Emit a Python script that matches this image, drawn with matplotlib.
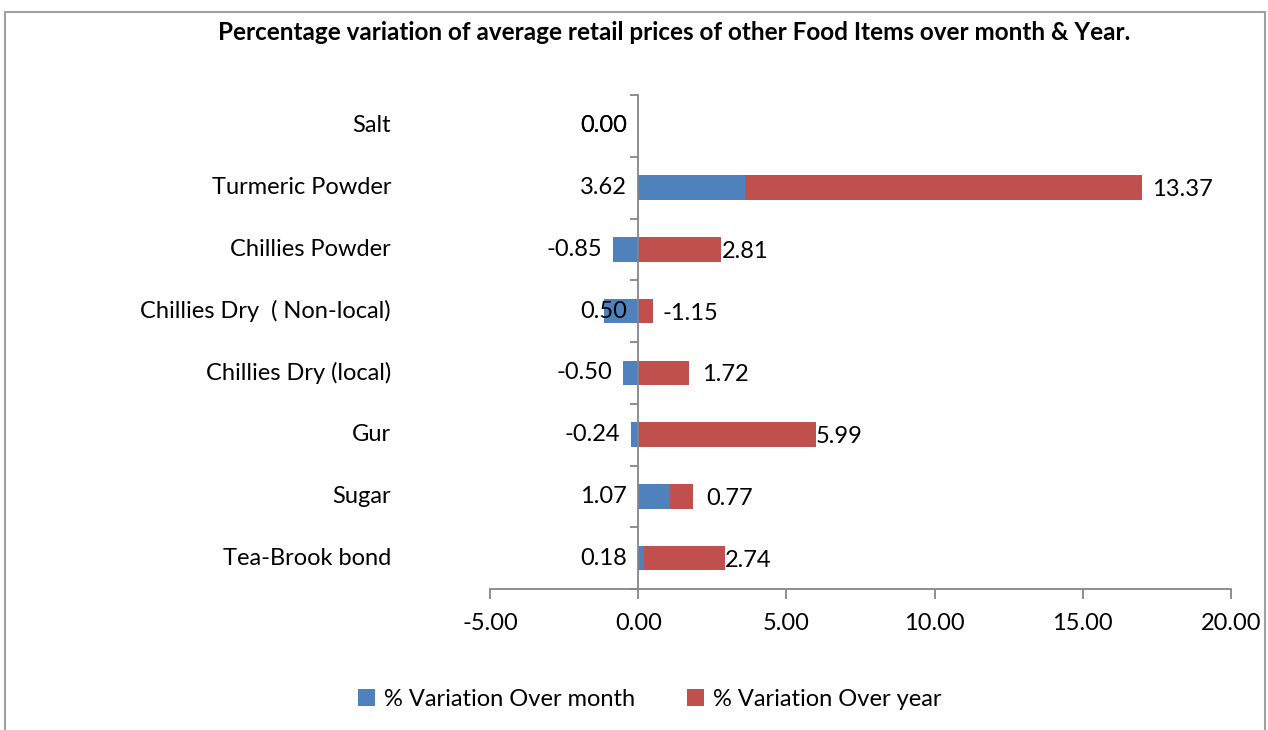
import numpy as np
import matplotlib.pyplot as plt
from matplotlib.patches import Rectangle
from matplotlib.transforms import offset_copy, blended_transform_factory

plt.rcParams['font.family'] = ['Lato', 'DejaVu Sans']

# bottom -> top
items = ["Tea-Brook bond", "Sugar", "Gur", "Chillies Dry (local)",
         "Chillies Dry  ( Non-local)", "Chillies Powder", "Turmeric Powder", "Salt"]
over_month = [0.18, 1.07, -0.24, -0.50, -1.15, -0.85, 3.62, 0.00]
over_year = [2.74, 0.77, 5.99, 1.72, 0.50, 2.81, 13.37, 0.00]
# label texts as printed on the original chart
month_labels = ["0.18", "1.07", "-0.24", "-0.50", "0.50", "-0.85", "3.62", "0.00"]
year_labels = ["2.74", "0.77", "5.99", "1.72", "-1.15", "2.81", "13.37", "0.00"]
x_ticks = [-5, 0, 5, 10, 15, 20]

BLUE = "#4F81BD"
RED = "#C0504D"
AXIS = "#868686"
FS = 17

fig = plt.figure(figsize=(12.68, 7.30), dpi=100)
ax = fig.add_axes([490 / 1268, 1 - 589 / 730, 741 / 1268, 494 / 730])

y = np.arange(len(items))
month = np.array(over_month)
year = np.array(over_year)
# excel-style stacking: negatives go left from zero, positives right
year_left = np.where(month > 0, month, 0)

ax.barh(y, month, height=0.4, color=BLUE, label="% Variation Over month", zorder=2)
ax.barh(y, year, left=year_left, height=0.4, color=RED,
        label="% Variation Over year", zorder=2)

ax.set_xlim(-5, 20)
ax.set_ylim(-0.5, len(items) - 0.5)
ax.set_xticks(x_ticks)
ax.set_xticklabels([f"{v:.2f}" for v in x_ticks], fontsize=FS)
ax.set_yticks(np.arange(len(items) + 1) - 0.5)
ax.set_yticklabels([])
ax.tick_params(axis="x", direction="out", length=7, width=1.3, color=AXIS, pad=10)
ax.tick_params(axis="y", direction="out", length=6, width=1.3, color=AXIS)

for s in ["top", "right"]:
    ax.spines[s].set_visible(False)
ax.spines["left"].set_position(("data", 0))
ax.spines["left"].set_color(AXIS)
ax.spines["left"].set_linewidth(1.3)
ax.spines["bottom"].set_color(AXIS)
ax.spines["bottom"].set_linewidth(1.3)
ax.spines["left"].set_zorder(3)

# category names on the far left
lab_tr = blended_transform_factory(ax.transAxes, ax.transData)
for yi, name in zip(y, items):
    ax.text(-99 / 741, yi, name, transform=lab_tr, ha="right", va="center", fontsize=FS)

# data labels
left_tr = offset_copy(ax.transData, fig=fig, x=-11, y=0, units="dots")
for yi, txt, m in zip(y, month_labels, month):
    anchor = min(m, 0) if float(txt) < 0 else 0
    ax.text(anchor, yi, txt, transform=left_tr, ha="right", va="center", fontsize=FS)

year_nudge = [0, 14, 0, 13, 9, 0, 10, 0]
for yi, txt, m, yr, dx in zip(y, year_labels, month, year, year_nudge):
    if m == 0 and yr == 0:
        ax.text(0, yi, txt, transform=left_tr, ha="right", va="center", fontsize=FS)
        continue
    end = max(m, 0) + yr
    tr = offset_copy(ax.transData, fig=fig, x=dx, y=-2, units="dots")
    ax.text(end, yi, txt, transform=tr, ha="left", va="center", fontsize=FS)

fig.text(674 / 1268, 1 - 33 / 730,
         "Percentage variation of average retail prices of other Food Items over month & Year.",
         ha="center", va="center", fontsize=17.5, fontweight="bold")

handles, labels = ax.get_legend_handles_labels()
fig.legend(handles, labels, loc="center", bbox_to_anchor=(650 / 1268, 1 - 699 / 730),
           ncol=2, frameon=False, fontsize=FS, handlelength=0.7, handleheight=0.7,
           handletextpad=0.4, columnspacing=2.2)

fig.patches.append(Rectangle((5 / 1268, -0.02), 1260 / 1268, 1 - 12 / 730 + 0.02,
                             transform=fig.transFigure, fill=False,
                             edgecolor="#A0A0A0", linewidth=1.5))

fig.savefig("out.png", dpi=100)
